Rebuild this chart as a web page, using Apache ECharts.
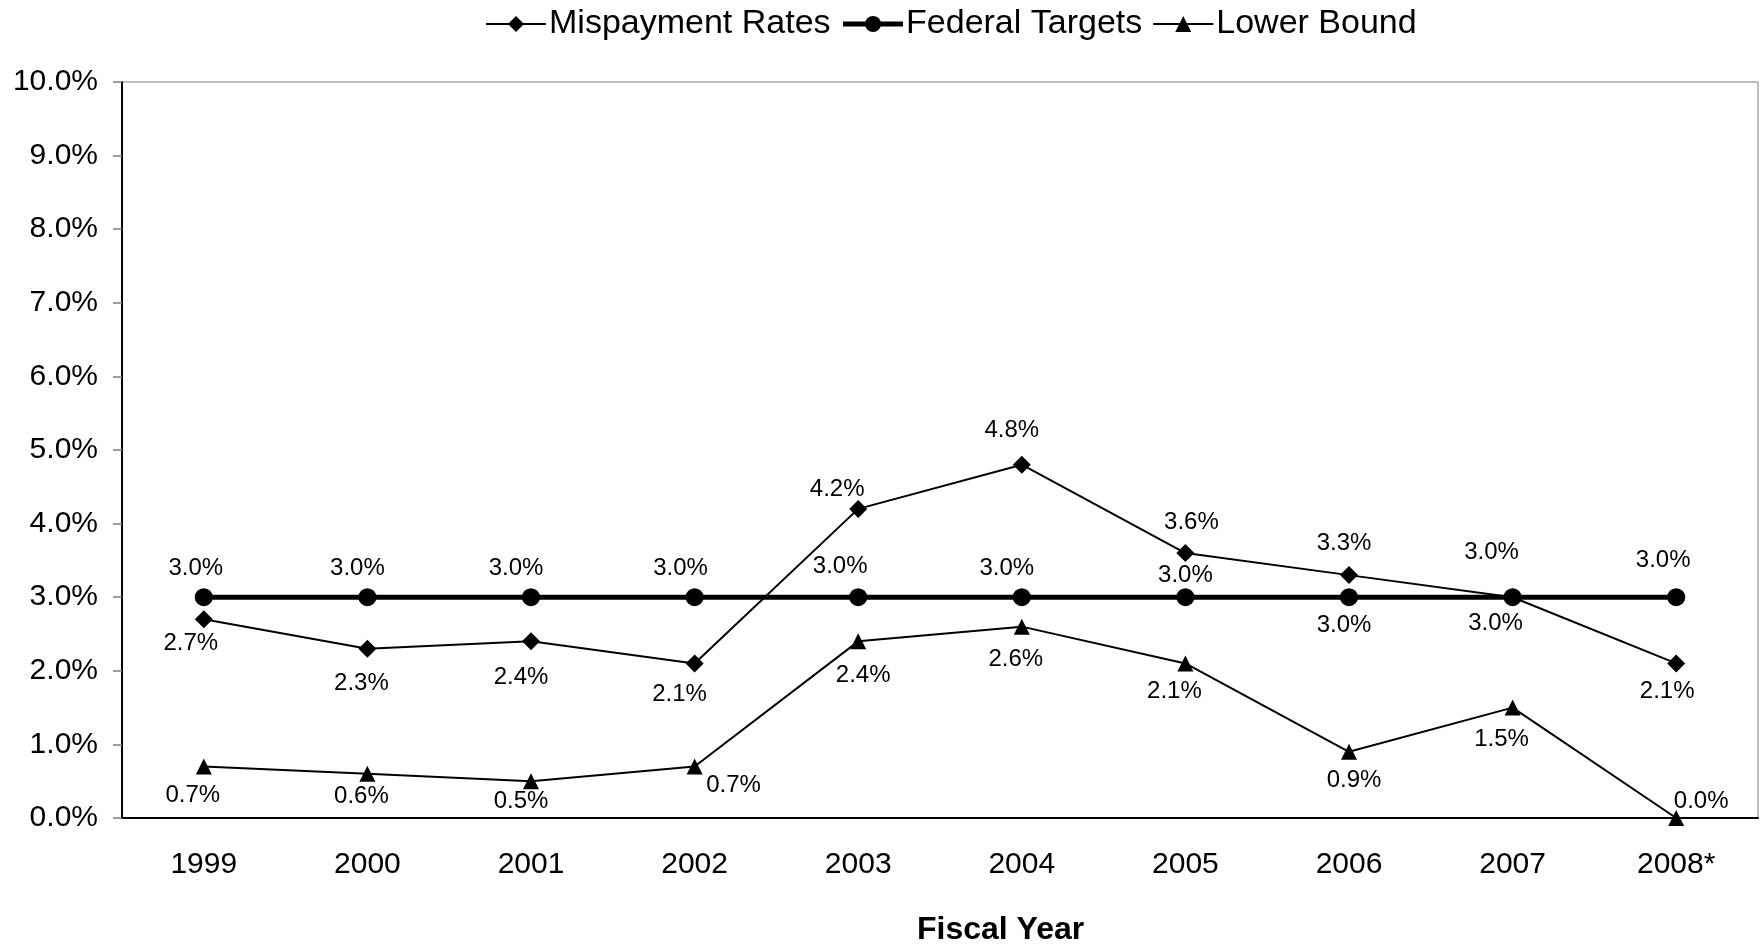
<!DOCTYPE html>
<html>
<head>
<meta charset="utf-8">
<script src="https://cdn.jsdelivr.net/npm/echarts@6/dist/echarts.min.js"></script>
<style>
html,body{margin:0;padding:0;background:#fff;}
#chart{width:1760px;height:946px;}
</style>
</head>
<body>
<div id="chart"></div>
<script>
// ---- data ----
const categories = ['1999','2000','2001','2002','2003','2004','2005','2006','2007','2008*'];
const mispaymentRates = [2.7, 2.3, 2.4, 2.1, 4.2, 4.8, 3.6, 3.3, 3.0, 2.1];
const federalTargets  = [3.0, 3.0, 3.0, 3.0, 3.0, 3.0, 3.0, 3.0, 3.0, 3.0];
const lowerBound      = [0.7, 0.6, 0.5, 0.7, 2.4, 2.6, 2.1, 0.9, 1.5, 0.0];
const yTicks = [0,1,2,3,4,5,6,7,8,9,10];

// ---- label placement (style) ----
const misOffsets = [[-13,24],[-6,35],[-10,36],[-15,31],[-21,-20],[-10,-34],[6,-31],[-5,-32],[-21,-45],[-9,28]];
const fedOffsets = [[-8,-29],[-10,-29],[-15,-29],[-14,-29],[-18,-31],[-15,-29],[0,-22],[-5,28],[-17,26],[-13,-37]];
const lowOffsets = [[-11,29],[-6,23],[-10,20],[39,19],[5,34],[-6,33],[-11,28],[5,29],[-11,32],[25,-17]];

const FONT = '"Liberation Sans", Arial, sans-serif';

function withLabels(values, offsets) {
  return values.map((v, i) => ({
    value: v,
    label: { position: 'inside', offset: offsets[i] }
  }));
}

const labelStyle = {
  show: true,
  color: '#000',
  fontFamily: FONT,
  fontSize: 24,
  formatter: p => Number(p.value).toFixed(1) + '%'
};

const chart = echarts.init(document.getElementById('chart'));
chart.setOption({
  animation: false,
  backgroundColor: '#fff',
  textStyle: { fontFamily: FONT, color: '#000' },
  legend: {
    top: 2,
    left: 480,
    itemWidth: 60,
    itemHeight: 20,
    itemGap: 10,
    textStyle: { fontFamily: FONT, fontSize: 34, color: '#000', padding: [0,0,0,-2] },
    data: [
      { name: 'Mispayment Rates', lineStyle: { width: 2 } },
      { name: 'Federal Targets', lineStyle: { width: 5 } },
      { name: 'Lower Bound', lineStyle: { width: 2 } }
    ]
  },
  grid: {
    left: 122, right: 2, top: 82, bottom: 128,
    show: true, borderColor: '#808080', borderWidth: 1, backgroundColor: 'transparent'
  },
  graphic: [{
    type: 'text',
    left: 917,
    top: 914,
    style: { text: 'Fiscal Year', fontFamily: FONT, fontSize: 32, fontWeight: 'bold', fill: '#000' }
  }],
  xAxis: {
    type: 'category',
    data: categories,
    boundaryGap: true,
    axisLine: { lineStyle: { color: '#000', width: 2 } },
    axisTick: { show: false },
    axisLabel: { color: '#000', fontFamily: FONT, fontSize: 30, margin: 32 },
    splitLine: { show: false }
  },
  yAxis: {
    type: 'value',
    min: yTicks[0],
    max: yTicks[yTicks.length - 1],
    interval: 1,
    axisLine: { show: true, lineStyle: { color: '#000', width: 2 } },
    axisTick: { show: true, length: 9, lineStyle: { color: '#808080', width: 1.5 } },
    axisLabel: { color: '#000', fontFamily: FONT, fontSize: 30, margin: 24,
      formatter: v => v.toFixed(1) + '%' },
    splitLine: { show: false }
  },
  series: [
    {
      name: 'Mispayment Rates', type: 'line',
      data: withLabels(mispaymentRates, misOffsets),
      symbol: 'diamond', symbolSize: 18,
      lineStyle: { color: '#000', width: 2 },
      itemStyle: { color: '#000' },
      label: labelStyle, z: 3
    },
    {
      name: 'Federal Targets', type: 'line',
      data: withLabels(federalTargets, fedOffsets),
      symbol: 'circle', symbolSize: 18,
      lineStyle: { color: '#000', width: 5 },
      itemStyle: { color: '#000' },
      label: labelStyle, z: 2
    },
    {
      name: 'Lower Bound', type: 'line',
      data: withLabels(lowerBound, lowOffsets),
      symbol: 'triangle', symbolSize: 16,
      lineStyle: { color: '#000', width: 2 },
      itemStyle: { color: '#000' },
      label: labelStyle, z: 3
    }
  ]
});
</script>
</body>
</html>
